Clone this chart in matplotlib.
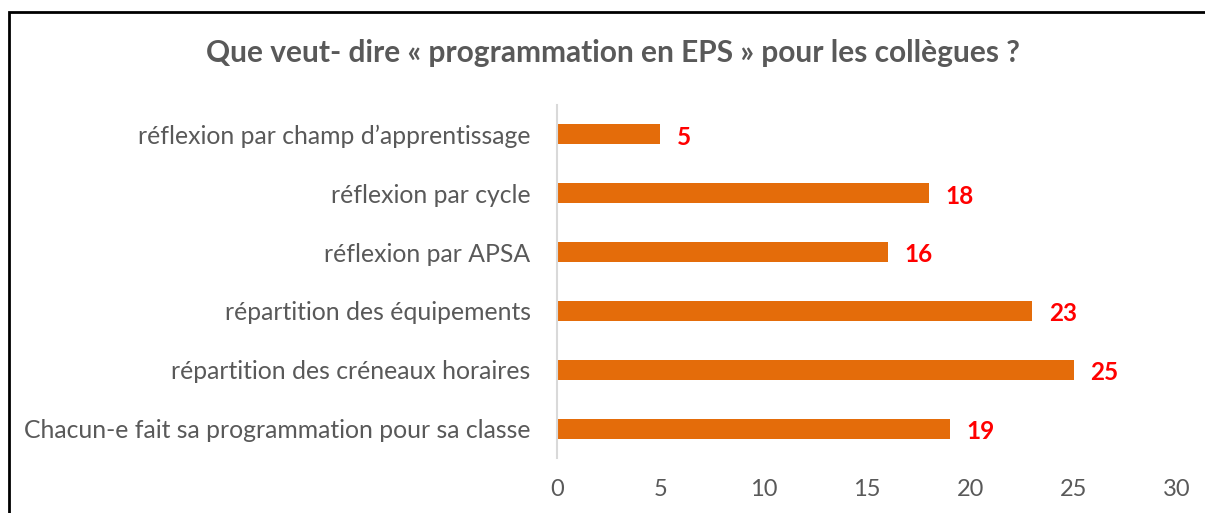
import matplotlib
matplotlib.use("Agg")
import matplotlib.pyplot as plt
from matplotlib.patches import Rectangle

matplotlib.rcParams['font.family'] = ['Lato', 'DejaVu Sans']

categories = [
    "réflexion par champ d’apprentissage",
    "réflexion par cycle",
    "réflexion par APSA",
    "répartition des équipements",
    "répartition des créneaux horaires",
    "Chacun-e fait sa programmation pour sa classe",
]
values = [5, 18, 16, 23, 25, 19]
xticks = [0, 5, 10, 15, 20, 25, 30]

title = "Que veut- dire « programmation en EPS » pour les collègues ?"
bar_color = "#E46C0A"
grey = "#595959"

fig = plt.figure(figsize=(12.05, 5.13), dpi=100)
ax = fig.add_axes([557 / 1205, 1 - 458 / 513, 620 / 1205, 353 / 513])

ypos = list(range(len(categories)))[::-1]
ax.barh(ypos, values, height=0.34, color=bar_color)
ax.set_ylim(-0.5, len(categories) - 0.5)
ax.set_xlim(0, 30)
ax.set_yticks(ypos)
ax.set_yticklabels(categories, fontsize=17.8, color=grey)
ax.set_xticks(xticks)
ax.set_xticklabels([str(t) for t in xticks], fontsize=17, color=grey)
ax.tick_params(length=0)
ax.tick_params(axis='y', pad=19)
ax.tick_params(axis='x', pad=15)
for s in ['top', 'right', 'bottom']:
    ax.spines[s].set_visible(False)
ax.spines['left'].set_color('#d9d9d9')
ax.spines['left'].set_linewidth(1.5)

for y, v in zip(ypos, values):
    ax.annotate(str(v), (v, y), xytext=(12, -2), textcoords='offset points',
                va='center', ha='left', color='red', fontsize=17.5,
                fontweight='bold')

fig.text(613 / 1205, 1 - 53 / 513, title, ha='center', va='center',
         fontsize=21.5, fontweight='bold', color=grey)

# outer frame (cropped at right and bottom)
fig.patches.append(Rectangle((9 / 1205, -0.1), 1.2, 1.1 - 12 / 513,
                             transform=fig.transFigure, fill=False,
                             edgecolor='black', linewidth=2))

fig.savefig("out.png", dpi=100)
